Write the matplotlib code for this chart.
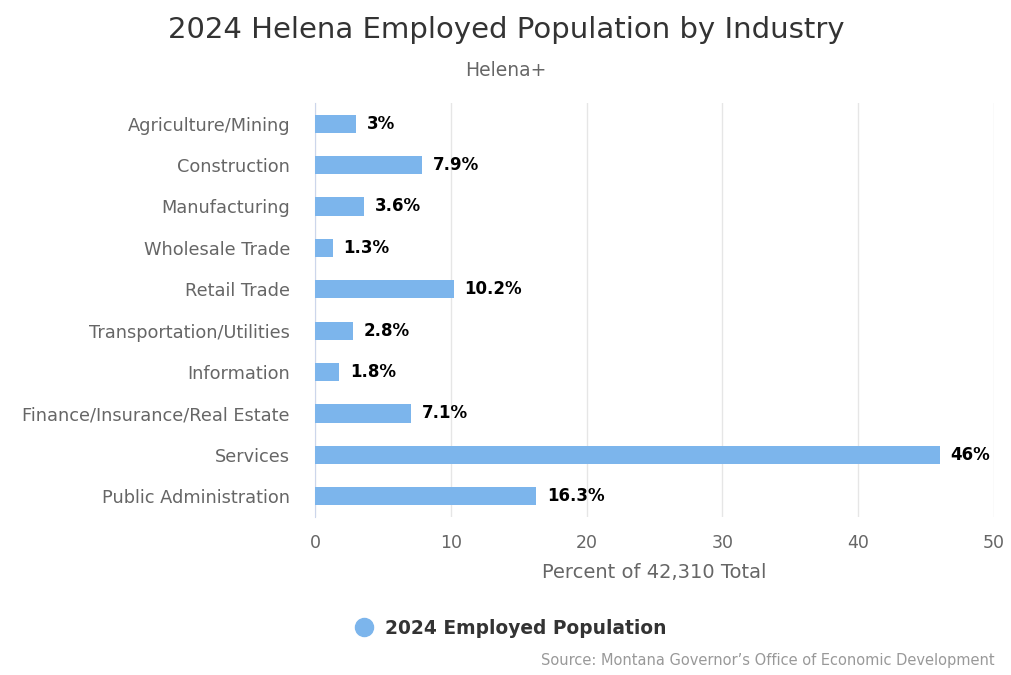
import matplotlib.pyplot as plt
from matplotlib.lines import Line2D

categories = ["Agriculture/Mining", "Construction", "Manufacturing", "Wholesale Trade",
              "Retail Trade", "Transportation/Utilities", "Information",
              "Finance/Insurance/Real Estate", "Services", "Public Administration"]
values = [3, 7.9, 3.6, 1.3, 10.2, 2.8, 1.8, 7.1, 46, 16.3]
value_labels = ["3%", "7.9%", "3.6%", "1.3%", "10.2%", "2.8%", "1.8%", "7.1%", "46%", "16.3%"]
x_ticks = [0, 10, 20, 30, 40, 50]

BAR = "#7cb5ec"

fig = plt.figure(figsize=(10.12, 6.75), dpi=100)
ax = fig.add_axes([315 / 1012, 1 - 517 / 675, (994 - 315) / 1012, 414 / 675])

ypos = list(range(len(categories)))
ax.barh(ypos, values, height=0.44, color=BAR, zorder=3)
for y, v, lab in zip(ypos, values, value_labels):
    ax.text(v + 0.8, y, lab, va="center", ha="left", fontsize=12,
            fontweight="bold", color="black", zorder=4)

ax.set_xlim(0, 50)
ax.set_ylim(len(categories) - 0.5, -0.5)
ax.set_yticks(ypos)
ax.set_yticklabels(categories, fontsize=12.8, color="#666666")
ax.set_xticks(x_ticks)
ax.set_xticklabels([str(t) for t in x_ticks], fontsize=12.5, color="#666666")
ax.tick_params(axis="both", length=0)
ax.tick_params(axis="y", pad=18)
ax.tick_params(axis="x", pad=12)
ax.grid(axis="x", color="#e6e6e6", linewidth=1, zorder=0)
for s in ["top", "right", "bottom"]:
    ax.spines[s].set_visible(False)
ax.spines["left"].set_color("#ccd6eb")
ax.set_xlabel("Percent of 42,310 Total", fontsize=14, color="#666666", labelpad=8)

fig.text(506 / 1012, 1 - 30 / 675, "2024 Helena Employed Population by Industry",
         ha="center", va="center", fontsize=21, color="#333333")
fig.text(506 / 1012, 1 - 70 / 675, "Helena+", ha="center", va="center",
         fontsize=13.5, color="#666666")

handle = Line2D([], [], marker="o", linestyle="none", markersize=13,
                markerfacecolor=BAR, markeredgecolor=BAR)
fig.legend([handle], ["2024 Employed Population"], loc="center",
           bbox_to_anchor=(506 / 1012, 1 - 628 / 675), frameon=False,
           prop={"size": 13.4, "weight": "bold"}, handletextpad=0.1,
           labelcolor="#333333")

fig.text(995 / 1012, 1 - 661 / 675, "Source: Montana Governor\u2019s Office of Economic Development",
         ha="right", va="center", fontsize=10.5, color="#999999")

fig.savefig("out.png", dpi=100)
